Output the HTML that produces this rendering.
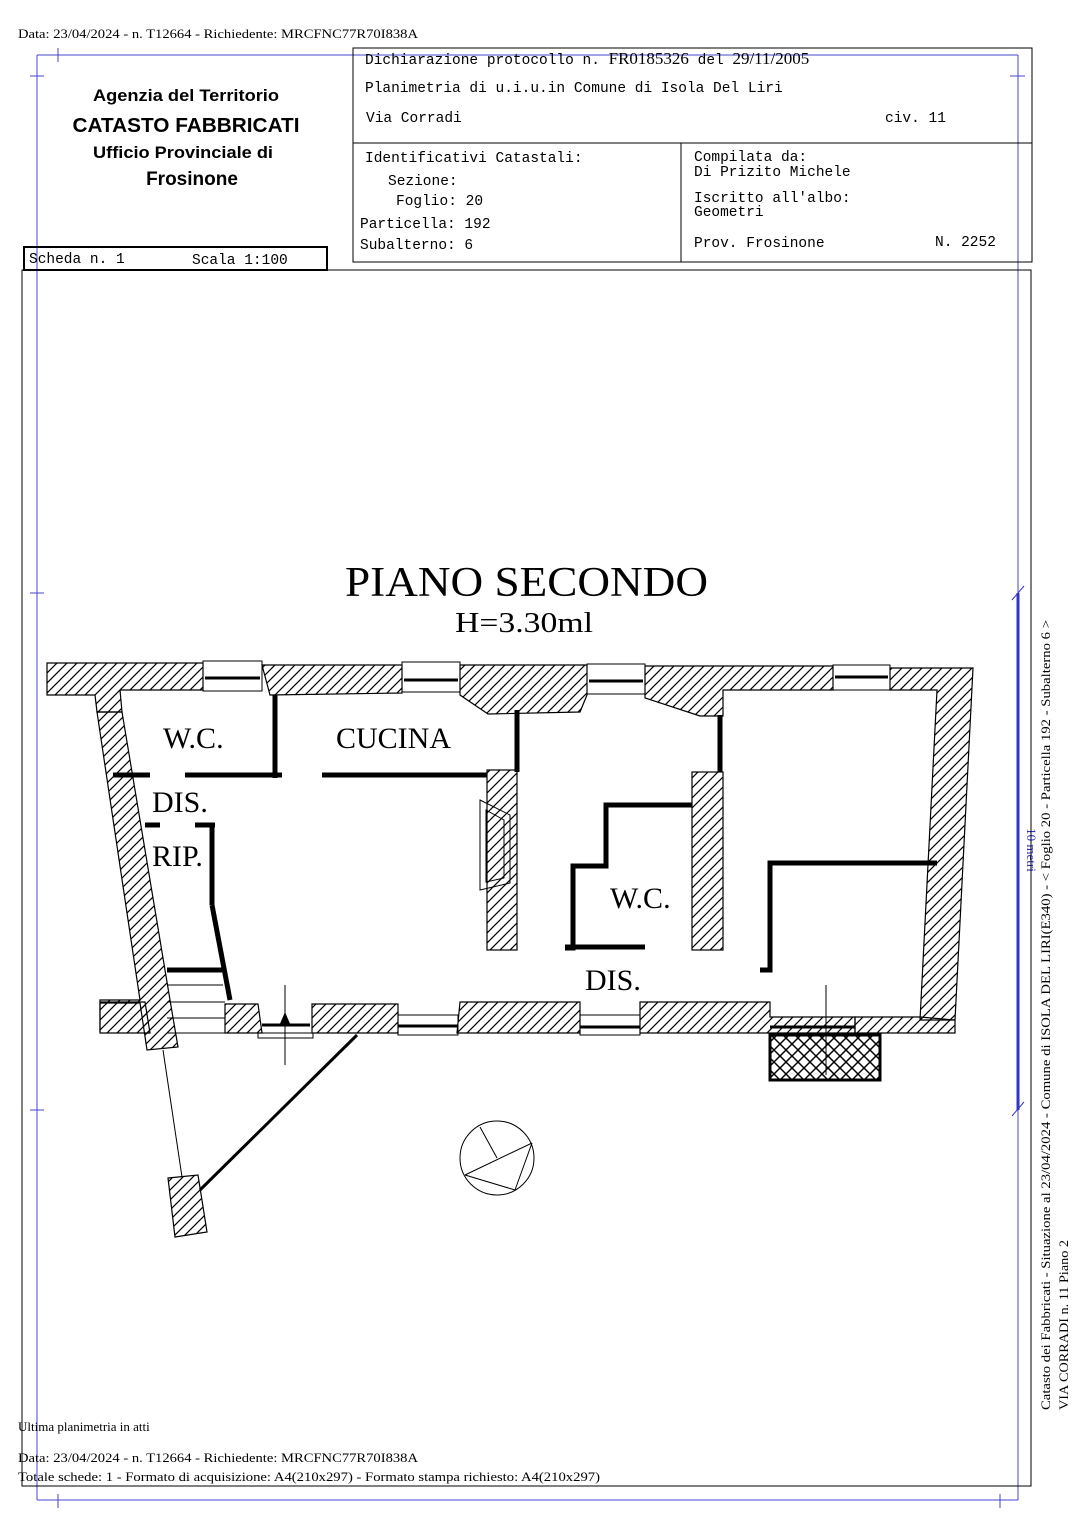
<!DOCTYPE html>
<html><head><meta charset="utf-8"><style>
html,body{margin:0;padding:0;background:#fff}
svg{display:block}
.m{font-family:"Liberation Mono",monospace;font-size:14.5px}
.t{font-family:"Liberation Serif",serif}
.s{font-family:"Liberation Sans",sans-serif}
</style></head><body>
<svg width="1086" height="1536" viewBox="0 0 1086 1536" xmlns="http://www.w3.org/2000/svg">
<defs>
<pattern id="h" patternUnits="userSpaceOnUse" width="10" height="10">
<path d="M-2,12 L12,-2 M-2,2 L2,-2 M8,12 L12,8" stroke="#000" stroke-width="1.2"/>
</pattern>
<pattern id="x" patternUnits="userSpaceOnUse" width="12" height="12">
<path d="M0,0 L12,12 M12,0 L0,12" stroke="#000" stroke-width="1.5"/>
</pattern>
</defs>
<rect width="1086" height="1536" fill="#fff"/>
<text x="18" y="38" class="t" font-size="13" textLength="400" lengthAdjust="spacingAndGlyphs">Data: 23/04/2024 - n. T12664 - Richiedente: MRCFNC77R70I838A</text>
<!-- blue frame -->
<g stroke="#4444cc" stroke-width="1" fill="none">
<line x1="37" y1="55" x2="1018" y2="55"/>
<line x1="37" y1="55" x2="37" y2="1500"/>
<line x1="1018" y1="55" x2="1018" y2="1500"/>
<line x1="37" y1="1500" x2="1018" y2="1500"/>
<line x1="58" y1="48" x2="58" y2="62"/><line x1="30" y1="76" x2="44" y2="76"/>
<line x1="1010" y1="76" x2="1025" y2="76"/>
<line x1="30" y1="593" x2="44" y2="593"/><line x1="30" y1="1110" x2="44" y2="1110"/>
<line x1="58" y1="1494" x2="58" y2="1508"/><line x1="1000" y1="1494" x2="1000" y2="1508"/>
</g>
<line x1="1018" y1="593" x2="1018" y2="1110" stroke="#3333cc" stroke-width="3"/>
<line x1="1012" y1="600" x2="1024" y2="586" stroke="#3333cc"/>
<line x1="1012" y1="1116" x2="1024" y2="1102" stroke="#3333cc"/>
<text transform="translate(1027,850) rotate(90)" class="t" font-size="13" fill="#3333cc" text-anchor="middle">10 metri</text>
<text transform="translate(1050,1410) rotate(-90)" class="t" font-size="13" textLength="790" lengthAdjust="spacingAndGlyphs">Catasto dei Fabbricati - Situazione al 23/04/2024 - Comune di ISOLA DEL LIRI(E340) - &lt; Foglio 20 - Particella  192 - Subalterno 6 &gt;</text>
<text transform="translate(1068,1410) rotate(-90)" class="t" font-size="13" textLength="170" lengthAdjust="spacingAndGlyphs">VIA CORRADI n. 11 Piano 2</text>
<!-- header -->
<g fill="none" stroke="#000" stroke-width="1">
<rect x="353" y="48" width="679" height="214"/>
<line x1="353" y1="143" x2="1032" y2="143"/>
<line x1="681" y1="143" x2="681" y2="262"/>
<rect x="22" y="270" width="1009" height="1216"/>
</g>
<rect x="24" y="247" width="303" height="23" fill="none" stroke="#000" stroke-width="2"/>
<text x="29" y="263" class="m">Scheda n. 1</text><text x="192" y="264" class="m">Scala 1:100</text>
<g class="s" font-size="17" text-anchor="middle" font-weight="bold">
<text x="186" y="101" textLength="186" lengthAdjust="spacingAndGlyphs">Agenzia del Territorio</text>
<text x="186" y="132" font-size="20" textLength="227" lengthAdjust="spacingAndGlyphs">CATASTO FABBRICATI</text>
<text x="183" y="158" textLength="180" lengthAdjust="spacingAndGlyphs">Ufficio Provinciale di</text>
<text x="192" y="185" font-size="19">Frosinone</text>
</g>
<text x="365" y="64" class="m">Dichiarazione protocollo n. <tspan class="t" font-size="17">FR0185326</tspan> del  <tspan class="t" font-size="17">29/11/2005</tspan></text>
<text x="365" y="92" class="m">Planimetria di u.i.u.in Comune di Isola Del Liri</text>
<text x="366" y="122" class="m">Via Corradi</text>
<text x="885" y="122" class="m">civ. 11</text>
<text x="365" y="162" class="m">Identificativi Catastali:</text>
<text x="388" y="185" class="m">Sezione:</text>
<text x="396" y="205" class="m">Foglio: 20</text>
<text x="360" y="228" class="m">Particella: 192</text>
<text x="360" y="249" class="m">Subalterno: 6</text>
<text x="694" y="161" class="m">Compilata da:</text>
<text x="694" y="176" class="m">Di Prizito Michele</text>
<text x="694" y="202" class="m">Iscritto all'albo:</text>
<text x="694" y="216" class="m">Geometri</text>
<text x="694" y="247" class="m">Prov. Frosinone</text>
<text x="935" y="246" class="m">N.  2252</text>
<!-- title -->
<text x="345" y="596" class="t" font-size="42" textLength="363" lengthAdjust="spacingAndGlyphs">PIANO SECONDO</text>
<text x="455" y="632" class="t" font-size="29" textLength="138" lengthAdjust="spacingAndGlyphs">H=3.30ml</text>
<!-- walls -->
<g fill="url(#h)" stroke="#000" stroke-width="1.2">
<polygon points="47,663 203,663 203,690 120,690 122,712 97,712 95,695 47,695"/>
<polygon points="262,665 402,665 402,693 270,695"/>
<polygon points="460,665 587,665 587,695 580,712 488,714 460,695"/>
<polygon points="645,666 833,666 833,690 723,690 723,716 700,716 645,698"/>
<polygon points="890,668 973,668 955,1020 920,1020 937,690 890,690"/>
<polygon points="97,712 122,712 170,1000 178,1047 147,1050 140,1003 100,1003 100,1032 100,1000 140,1000"/>
<polygon points="100,1002 145,1002 150,1033 100,1033"/>
<polygon points="225,1004 258,1004 262,1033 225,1033"/>
<polygon points="312,1004 398,1004 398,1033 312,1033"/>
<polygon points="460,1002 580,1002 580,1033 457,1033"/>
<polygon points="640,1002 770,1002 770,1017 855,1017 855,1033 640,1033"/>
<polygon points="855,1017 920,1017 955,1020 955,1033 855,1033"/>
<rect x="487" y="770" width="30" height="180"/>
<rect x="692" y="772" width="31" height="178"/>
<polygon points="168,1178 198,1175 207,1232 175,1237"/>
</g>
<rect x="770" y="1035" width="110" height="45" fill="url(#x)" stroke="#000" stroke-width="3"/>
<!-- windows -->
<g stroke="#000" fill="none">
<rect x="203" y="661" width="59" height="30" stroke-width="1"/><line x1="205" y1="678" x2="260" y2="678" stroke-width="3"/>
<rect x="402" y="662" width="58" height="30"/><line x1="404" y1="680" x2="458" y2="680" stroke-width="3"/>
<rect x="587" y="664" width="58" height="30"/><line x1="589" y1="681" x2="643" y2="681" stroke-width="3"/>
<rect x="833" y="665" width="57" height="25"/><line x1="835" y1="677" x2="888" y2="677" stroke-width="3"/>
<rect x="580" y="1015" width="60" height="20"/><line x1="580" y1="1027" x2="640" y2="1027" stroke-width="3"/>
<rect x="398" y="1015" width="60" height="20"/><line x1="398" y1="1026" x2="458" y2="1026" stroke-width="3"/>
<line x1="770" y1="1027" x2="855" y2="1027" stroke-width="3"/>
<line x1="262" y1="1025" x2="310" y2="1025" stroke-width="3"/>
<rect x="258" y="1033" width="55" height="5"/>
</g>
<!-- interior walls -->
<g stroke="#000" stroke-width="5" fill="none">
<line x1="275" y1="695" x2="275" y2="778"/>
<line x1="113" y1="775" x2="150" y2="775"/>
<line x1="185" y1="775" x2="282" y2="775"/>
<line x1="322" y1="775" x2="487" y2="775"/>
<line x1="517" y1="710" x2="517" y2="772"/>
<line x1="720" y1="715" x2="720" y2="772"/>
<line x1="145" y1="825" x2="160" y2="825"/>
<line x1="195" y1="825" x2="215" y2="825"/>
<line x1="212" y1="825" x2="212" y2="905"/>
<polyline points="212,905 230,1000"/>
<polyline points="692,805 606,805 606,866 573,866 573,948 565,948"/>
<line x1="565" y1="947" x2="645" y2="947"/>
<polyline points="937,863 770,863 770,970 760,970"/>
<line x1="167" y1="970" x2="222" y2="970"/>
</g>
<g stroke="#000" stroke-width="1" fill="none">
<line x1="167" y1="985" x2="223" y2="985"/><line x1="167" y1="1002" x2="225" y2="1002"/><line x1="167" y1="1018" x2="225" y2="1018"/><line x1="167" y1="1033" x2="225" y2="1033"/>
<line x1="285" y1="985" x2="285" y2="1065"/>
<line x1="826" y1="985" x2="826" y2="1075"/>
<line x1="163" y1="1050" x2="182" y2="1177"/>
<polygon points="480,800 510,815 510,883 480,890"/>
<polygon points="486,810 504,820 504,878 486,882"/>
<circle cx="497" cy="1158" r="37"/>
<line x1="480" y1="1127" x2="497" y2="1158"/><line x1="465" y1="1175" x2="532" y2="1143"/>
<line x1="465" y1="1175" x2="515" y2="1190"/><line x1="515" y1="1190" x2="532" y2="1143"/>
</g>
<polygon points="285,1012 279,1026 291,1026" fill="#000"/>
<line x1="357" y1="1035" x2="200" y2="1190" stroke="#000" stroke-width="3"/>
<g class="t" font-size="30">
<text x="163" y="748">W.C.</text>
<text x="336" y="748">CUCINA</text>
<text x="152" y="812">DIS.</text>
<text x="152" y="866">RIP.</text>
<text x="610" y="908">W.C.</text>
<text x="585" y="990">DIS.</text>
</g>
<text x="18" y="1431" class="t" font-size="13">Ultima planimetria in atti</text>
<text x="18" y="1462" class="t" font-size="13" textLength="400" lengthAdjust="spacingAndGlyphs">Data: 23/04/2024 - n. T12664 - Richiedente: MRCFNC77R70I838A</text>
<text x="18" y="1481" class="t" font-size="13" textLength="582" lengthAdjust="spacingAndGlyphs">Totale schede: 1 - Formato di acquisizione: A4(210x297)  - Formato stampa richiesto: A4(210x297)</text>
</svg>
</body></html>
